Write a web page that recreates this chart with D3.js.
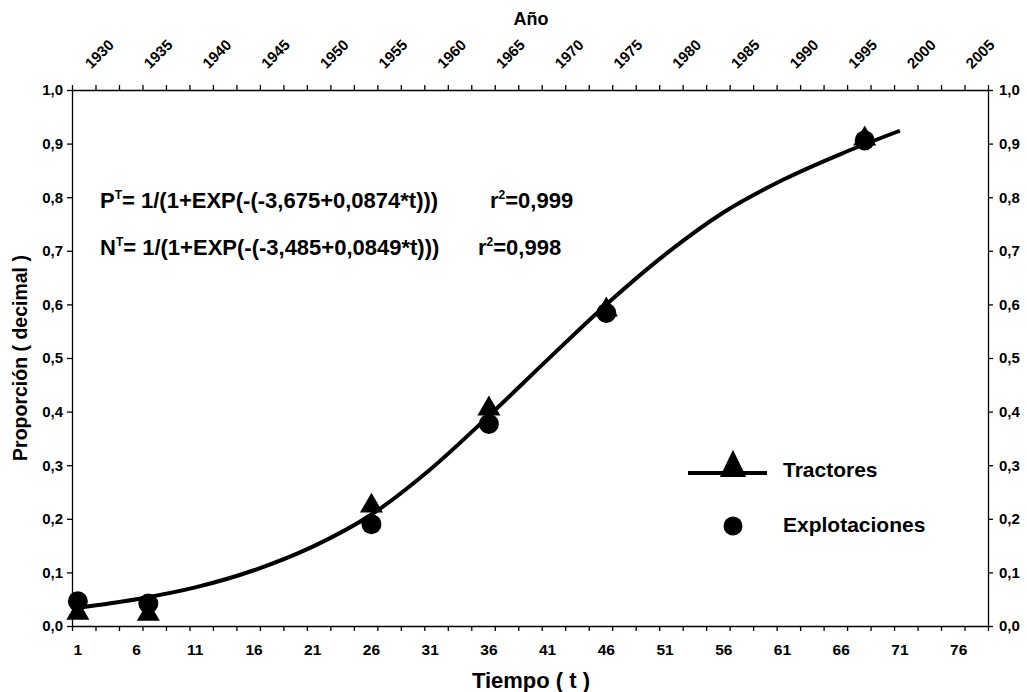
<!DOCTYPE html>
<html>
<head>
<meta charset="utf-8">
<script src="https://cdn.jsdelivr.net/npm/d3@7"></script>
<style>
  body { margin: 0; background: #fff; }
  text { font-family: "Liberation Sans", Arial, sans-serif; font-weight: bold; fill: #000; }
</style>
</head>
<body>
<svg width="1027" height="692"></svg>
<script>
// categories of the time axis (t = 1..78) and the labels shown on it
var tCategories = d3.range(1, 79);
var tLabels = [1, 6, 11, 16, 21, 26, 31, 36, 41, 46, 51, 56, 61, 66, 71, 76];

// top axis: years, one per category
var years = d3.range(1928, 2006);
var yearLabels = [1930, 1935, 1940, 1945, 1950, 1955, 1960, 1965, 1970, 1975, 1980, 1985, 1990, 1995, 2000, 2005];

var yTicks = [0, 0.1, 0.2, 0.3, 0.4, 0.5, 0.6, 0.7, 0.8, 0.9, 1.0];

// observed proportions
var obsT = [1, 7, 26, 36, 46, 68];
var tractores = [0.024, 0.022, 0.224, 0.405, 0.59, 0.909];
var explotaciones = [0.046, 0.042, 0.19, 0.377, 0.584, 0.906];

// fitted curve
var curveT = [1, 6, 11, 16, 21, 26, 31, 36, 41, 46, 51, 56, 61, 66, 71];
var curveP = [0.034, 0.050, 0.072, 0.104, 0.148, 0.208, 0.292, 0.392, 0.497, 0.600, 0.693, 0.772, 0.832, 0.881, 0.924];

var svg = d3.select("svg");

// plot box (note: "top" is reserved on window, so use other names)
var pLeft = 72, pRight = 988, pTop = 90, pBottom = 626;

var x = d3.scaleBand().domain(tCategories).range([pLeft, pRight]);
var xEdge = d3.scaleLinear().domain([0, 78]).range([pLeft, pRight]);
var xYear = d3.scaleBand().domain(years).range([pLeft, pRight]);
var y = d3.scaleLinear().domain([0, 1]).range([pBottom, pTop]);

function cx(t) { return x(t) + x.bandwidth() / 2; }
var fmt = function(d) { return d3.format(".1f")(d).replace(".", ","); };

// tick marks every 2 categories, on the boundaries
var edgeTicks = d3.range(0, 79, 2);

// bottom axis: marks
svg.append("g")
  .attr("transform", "translate(0," + pBottom + ")")
  .call(d3.axisBottom(xEdge).tickValues(edgeTicks).tickSize(5).tickSizeOuter(0).tickFormat(""));
// bottom axis: labels at category centers
svg.append("g")
  .selectAll("text")
  .data(tLabels)
  .enter().append("text")
    .attr("x", cx)
    .attr("y", pBottom + 29)
    .attr("text-anchor", "middle")
    .style("font-size", "15.5px")
    .text(function(d) { return d; });

// top axis
svg.append("g")
  .attr("transform", "translate(0," + pTop + ")")
  .call(d3.axisTop(xEdge).tickValues(edgeTicks).tickSize(5).tickSizeOuter(0).tickFormat(""));
svg.append("g")
  .selectAll("text")
  .data(yearLabels)
  .enter().append("text")
    .attr("transform", function(d) {
      return "translate(" + (xYear(d) + xYear.bandwidth() / 2 - 2) + ",54) rotate(-45)";
    })
    .attr("text-anchor", "middle")
    .attr("dy", "0.35em")
    .style("font-size", "15px")
    .text(function(d) { return d; });

// left and right axes
svg.append("g")
  .attr("transform", "translate(" + pLeft + ",0)")
  .call(d3.axisLeft(y).tickValues(yTicks).tickSize(5).tickSizeOuter(0).tickPadding(4).tickFormat(fmt));
svg.append("g")
  .attr("transform", "translate(" + pRight + ",0)")
  .call(d3.axisRight(y).tickValues(yTicks).tickSize(5).tickSizeOuter(0).tickPadding(6).tickFormat(fmt));

svg.selectAll(".tick text").style("font-size", "15px");
svg.selectAll(".domain, .tick line").attr("stroke", "#000").attr("stroke-width", 1.3);
svg.selectAll("g").attr("font-family", null);

// axis titles
svg.append("text")
  .attr("x", 531).attr("y", 25)
  .attr("text-anchor", "middle")
  .style("font-size", "18px")
  .text("Año");
svg.append("text")
  .attr("x", 531).attr("y", 688)
  .attr("text-anchor", "middle")
  .style("font-size", "22px")
  .text("Tiempo ( t )");
svg.append("text")
  .attr("transform", "translate(27," + ((pTop + pBottom) / 2) + ") rotate(-90)")
  .attr("text-anchor", "middle")
  .style("font-size", "19.5px")
  .text("Proporción ( decimal )");

// fitted curve
var line = d3.line()
  .x(function(d) { return cx(d[0]); })
  .y(function(d) { return y(d[1]); })
  .curve(d3.curveMonotoneX);

svg.append("path")
  .datum(d3.zip(curveT, curveP))
  .attr("fill", "none")
  .attr("stroke", "#000")
  .attr("stroke-width", 4)
  .attr("d", line);

// points: explotaciones (circles) then tractores (triangles)
svg.append("g")
  .selectAll("circle")
  .data(d3.zip(obsT, explotaciones))
  .enter().append("circle")
    .attr("cx", function(d) { return cx(d[0]); })
    .attr("cy", function(d) { return y(d[1]); })
    .attr("r", 10)
    .attr("fill", "#000");

var tri = d3.symbol().type(d3.symbolTriangle).size(230);
svg.append("g")
  .selectAll("path")
  .data(d3.zip(obsT, tractores))
  .enter().append("path")
    .attr("d", tri)
    .attr("transform", function(d) { return "translate(" + cx(d[0]) + "," + y(d[1]) + ")"; })
    .attr("fill", "#000");

// equations
var eq = svg.append("g").style("font-size", "22px");
function equation(xPos, yPos, letter, body, r2x, r2) {
  var t = eq.append("text").attr("x", xPos).attr("y", yPos);
  t.append("tspan").text(letter);
  t.append("tspan").attr("dy", -9).style("font-size", "12px").text("T");
  t.append("tspan").attr("dy", 9).text(body);
  var r = eq.append("text").attr("x", r2x).attr("y", yPos);
  r.append("tspan").text("r");
  r.append("tspan").attr("dy", -9).style("font-size", "12px").text("2");
  r.append("tspan").attr("dy", 9).text(r2);
}
equation(100, 208, "P", "= 1/(1+EXP(-(-3,675+0,0874*t)))", 490, "=0,999");
equation(100, 255, "N", "= 1/(1+EXP(-(-3,485+0,0849*t)))", 478, "=0,998");

// legend
var legend = svg.append("g");
legend.append("line")
  .attr("x1", 688).attr("x2", 767)
  .attr("y1", 473).attr("y2", 473)
  .attr("stroke", "#000").attr("stroke-width", 4);
legend.append("path")
  .attr("d", d3.symbol().type(d3.symbolTriangle).size(300))
  .attr("transform", "translate(733,468) scale(1,1.2)")
  .attr("fill", "#000");
legend.append("circle")
  .attr("cx", 733).attr("cy", 526).attr("r", 9.5)
  .attr("fill", "#000");
legend.append("text")
  .attr("x", 783).attr("y", 477)
  .style("font-size", "21px")
  .text("Tractores");
legend.append("text")
  .attr("x", 783).attr("y", 532)
  .style("font-size", "21px")
  .text("Explotaciones");
</script>
</body>
</html>
